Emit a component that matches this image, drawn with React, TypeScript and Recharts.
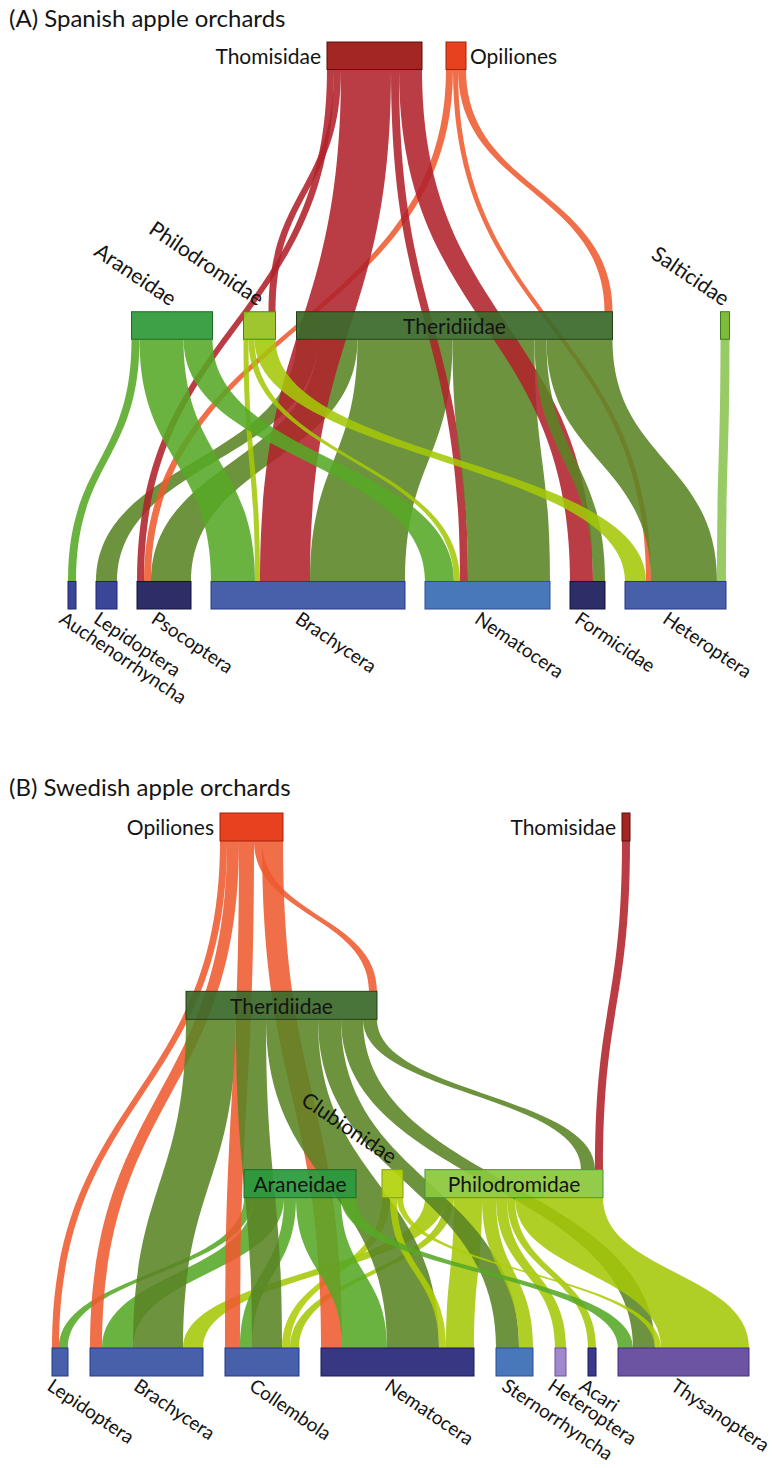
import { ComposedChart, Scatter, XAxis, YAxis } from "recharts";

const FONT = "Lato, 'Open Sans', sans-serif";

type Link = [string, string, number];

// (A) Spanish apple orchards
const spainLevels = [
	["Thomisidae", "Opiliones"],
	["Araneidae", "Philodromidae", "Theridiidae", "Salticidae"],
];
const spainStarts = [
	[327, 446],
	[131.5, 243.5, 296.5, 720.5],
];
const spainPrey = ["Auchenorrhyncha", "Lepidoptera", "Psocoptera", "Brachycera", "Nematocera", "Formicidae", "Heteroptera"];
const spainLinks: Link[] = [
	["Araneidae", "Auchenorrhyncha", 8],
	["Theridiidae", "Lepidoptera", 21],
	["Thomisidae", "Psocoptera", 7],
	["Opiliones", "Psocoptera", 7],
	["Theridiidae", "Psocoptera", 40],
	["Araneidae", "Brachycera", 44],
	["Philodromidae", "Brachycera", 5],
	["Thomisidae", "Philodromidae", 7],
	["Thomisidae", "Brachycera", 50],
	["Theridiidae", "Brachycera", 95],
	["Araneidae", "Nematocera", 29],
	["Philodromidae", "Nematocera", 6],
	["Thomisidae", "Nematocera", 8],
	["Theridiidae", "Nematocera", 82],
	["Thomisidae", "Formicidae", 23],
	["Theridiidae", "Formicidae", 12],
	["Philodromidae", "Heteroptera", 21],
	["Opiliones", "Heteroptera", 5],
	["Theridiidae", "Heteroptera", 66],
	["Salticidae", "Heteroptera", 9],
	["Opiliones", "Theridiidae", 8],
];

// (B) Swedish apple orchards
const swedenLevels = [
	["Opiliones", "Thomisidae"],
	["Theridiidae"],
	["Araneidae", "Clubionidae", "Philodromidae"],
];
const swedenStarts = [[220, 622], [186], [244, 382, 425]];
const swedenPrey = ["Lepidoptera", "Brachycera", "Collembola", "Nematocera", "Sternorrhyncha", "Heteroptera", "Acari", "Thysanoptera"];
const swedenLinks: Link[] = [
	["Opiliones", "Lepidoptera", 7],
	["Araneidae", "Lepidoptera", 9],
	["Opiliones", "Brachycera", 12],
	["Araneidae", "Brachycera", 31],
	["Theridiidae", "Brachycera", 50],
	["Philodromidae", "Brachycera", 20],
	["Opiliones", "Collembola", 15],
	["Araneidae", "Collembola", 12],
	["Theridiidae", "Collembola", 30],
	["Clubionidae", "Collembola", 8],
	["Philodromidae", "Collembola", 9],
	["Opiliones", "Theridiidae", 8],
	["Opiliones", "Nematocera", 21],
	["Araneidae", "Nematocera", 45],
	["Theridiidae", "Nematocera", 52],
	["Clubionidae", "Nematocera", 7],
	["Philodromidae", "Nematocera", 28],
	["Theridiidae", "Sternorrhyncha", 23],
	["Philodromidae", "Sternorrhyncha", 14],
	["Philodromidae", "Heteroptera", 11],
	["Philodromidae", "Acari", 8],
	["Araneidae", "Thysanoptera", 15],
	["Theridiidae", "Thysanoptera", 22],
	["Clubionidae", "Thysanoptera", 6],
	["Philodromidae", "Thysanoptera", 88],
	["Theridiidae", "Philodromidae", 14],
	["Thomisidae", "Philodromidae", 8],
];

// styles
const LINK_FILL: Record<string, string> = {
	Thomisidae: "#b0222b",
	Opiliones: "#ee5a2f",
	Araneidae: "#56a826",
	Philodromidae: "#a4c708",
	Clubionidae: "#aecd08",
	Theridiidae: "#5a8424",
	Salticidae: "#8ac350",
};

const SPAIN_NODE: Record<string, [string, string]> = {
	Thomisidae: ["#9c1611", "#5c0d0a"],
	Opiliones: ["#e5330e", "#a52309"],
	Araneidae: ["#2f9a3a", "#1d6b26"],
	Philodromidae: ["#98c21e", "#2f8a2a"],
	Theridiidae: ["#3c6a2b", "#233f18"],
	Salticidae: ["#76b72a", "#3c7a20"],
	Auchenorrhyncha: ["#2b3990", "#1c2870"],
	Lepidoptera: ["#2b3990", "#1c2870"],
	Psocoptera: ["#1d1d5c", "#121240"],
	Brachycera: ["#3a53a4", "#25398a"],
	Nematocera: ["#3a6db5", "#2a4f95"],
	Formicidae: ["#1d1d5c", "#121240"],
	Heteroptera: ["#3a53a4", "#25398a"],
};

const SWEDEN_NODE: Record<string, [string, string]> = {
	Opiliones: ["#e5330e", "#a52309"],
	Thomisidae: ["#9c1611", "#5c0d0a"],
	Theridiidae: ["#3c6a2b", "#233f18"],
	Araneidae: ["#2b9a3d", "#1d6b26"],
	Clubionidae: ["#b3d30d", "#7fa010"],
	Philodromidae: ["#8cc83c", "#3a9a3a"],
	Lepidoptera: ["#3a53a4", "#25398a"],
	Brachycera: ["#3a53a4", "#25398a"],
	Collembola: ["#3a53a4", "#25398a"],
	Nematocera: ["#29287a", "#1a1a5a"],
	Sternorrhyncha: ["#3a6db5", "#2a4f95"],
	Heteroptera: ["#9a7ec8", "#6a4fa0"],
	Acari: ["#2a2a80", "#1a1a5a"],
	Thysanoptera: ["#62479b", "#43307a"],
};

const SPAIN_LABEL: Record<string, string> = {
	Thomisidae: "left",
	Opiliones: "right",
	Araneidae: "diag",
	Philodromidae: "diag",
	Theridiidae: "inside",
	Salticidae: "diag",
};

const SWEDEN_LABEL: Record<string, string> = {
	Opiliones: "left",
	Thomisidae: "left",
	Theridiidae: "inside",
	Araneidae: "inside",
	Clubionidae: "diag",
	Philodromidae: "inside",
};

type Spec = {
	levels: string[][];
	starts: number[][];
	prey: string[];
	preyStart: number;
	preyGap: number;
	links: Link[];
};

function layout(spec: Spec, thick: number) {
	const row: Record<string, number> = {};
	const x0: Record<string, number> = {};
	const size: Record<string, number> = {};
	const out: Record<string, number> = {};
	const inn: Record<string, number> = {};
	spec.links.forEach(([s, t, v]) => {
		out[s] = (out[s] || 0) + v;
		inn[t] = (inn[t] || 0) + v;
	});
	spec.levels.forEach((names, r) =>
		names.forEach((n, i) => {
			row[n] = r;
			x0[n] = spec.starts[r][i];
			size[n] = Math.max(out[n] || 0, inn[n] || 0);
		}),
	);
	const preyRow = spec.levels.length;
	let cur = spec.preyStart;
	spec.prey.forEach(n => {
		row[n] = preyRow;
		x0[n] = cur;
		size[n] = inn[n] || 0;
		cur += size[n] + spec.preyGap;
	});
	const names = Object.keys(row);
	const outCur: Record<string, number> = {};
	const inCur: Record<string, number> = {};
	names.forEach(n => {
		outCur[n] = x0[n];
		inCur[n] = x0[n] + size[n] - (inn[n] || 0);
	});
	const ribbons = spec.links.map(([s, t, v]) => {
		const a = outCur[s];
		outCur[s] += v;
		const b = inCur[t];
		inCur[t] += v;
		return { source: s, a, b, v, ys: row[s] + thick, yt: row[t] };
	});
	const nodes = names.map(n => ({ name: n, row: row[n], x0: x0[n], x1: x0[n] + size[n] }));
	return { nodes, ribbons, maxLvl: preyRow + thick };
}

function renderLabel(name: string, place: string, x: number, y: number, width: number, height: number) {
	const common = { fontFamily: FONT, fontSize: 21, fill: "#141414" };
	if (place === "inside")
		return (
			<text x={x + width / 2} y={y + height / 2} textAnchor="middle" dominantBaseline="central" {...common}>
				{name}
			</text>
		);
	if (place === "left")
		return (
			<text x={x - 6} y={y + height / 2} textAnchor="end" dominantBaseline="central" {...common}>
				{name}
			</text>
		);
	if (place === "right")
		return (
			<text x={x + width + 4} y={y + height / 2} textAnchor="start" dominantBaseline="central" {...common}>
				{name}
			</text>
		);
	if (place === "diag") {
		const px = x + width / 2 - 2;
		const py = y - 5;
		return (
			<text x={px} y={py} textAnchor="end" transform={`rotate(34, ${px}, ${py})`} {...common}>
				{name}
			</text>
		);
	}
	const px = x + width / 2 - 14;
	const py = y + height + 13;
	return (
		<text x={px} y={py} textAnchor="start" transform={`rotate(34, ${px}, ${py})`} {...common} fontSize={19}>
			{name}
		</text>
	);
}

// ribbon from 4 scaled corner points: source left/right, target left/right
function ribbonLine(fill: string) {
	return (p: any) => {
		const pts = p.points || [];
		if (pts.length < 4) return <g />;
		const [s0, s1, t0, t1] = pts;
		const my = (s0.y + t0.y) / 2;
		const d = `M${s0.x},${s0.y} C${s0.x},${my} ${t0.x},${my} ${t0.x},${t0.y} L${t1.x},${t1.y} C${t1.x},${my} ${s1.x},${my} ${s1.x},${s1.y} Z`;
		return <path d={d} fill={fill} fillOpacity={0.88} stroke="none" />;
	};
}

// node box from 2 scaled corner points, with its label
function nodeLine(name: string, fill: string, stroke: string, place: string) {
	return (p: any) => {
		const pts = p.points || [];
		if (pts.length < 2) return <g />;
		const x = Math.min(pts[0].x, pts[1].x);
		const y = Math.min(pts[0].y, pts[1].y);
		const w = Math.abs(pts[1].x - pts[0].x);
		const h = Math.abs(pts[1].y - pts[0].y);
		return (
			<g>
				<rect x={x} y={y} width={w} height={h} fill={fill} fillOpacity={0.93} stroke={stroke} strokeWidth={1} />
				{renderLabel(name, place, x, y, w, h)}
			</g>
		);
	};
}

type PanelProps = {
	spec: Spec;
	thick: number;
	height: number;
	top: number;
	bottom: number;
	colors: Record<string, [string, string]>;
	places: Record<string, string>;
};

function FoodWeb({ spec, thick, height, top, bottom, colors, places }: PanelProps) {
	const { nodes, ribbons, maxLvl } = layout(spec, thick);
	return (
		<ComposedChart width={777} height={height} margin={{ top, right: 0, bottom, left: 0 }}>
			<XAxis type="number" dataKey="px" domain={[0, 777]} hide />
			<YAxis type="number" dataKey="lvl" domain={[0, maxLvl]} reversed hide />
			{ribbons.map((r, i) => (
				<Scatter
					key={`l${i}`}
					data={[
						{ px: r.a, lvl: r.ys },
						{ px: r.a + r.v, lvl: r.ys },
						{ px: r.b, lvl: r.yt },
						{ px: r.b + r.v, lvl: r.yt },
					]}
					line={ribbonLine(LINK_FILL[r.source])}
					shape={() => <g />}
					isAnimationActive={false}
				/>
			))}
			{nodes.map(n => (
				<Scatter
					key={n.name}
					data={[
						{ px: n.x0, lvl: n.row },
						{ px: n.x1, lvl: n.row + thick },
					]}
					line={nodeLine(n.name, colors[n.name][0], colors[n.name][1], places[n.name] || "below")}
					shape={() => <g />}
					isAnimationActive={false}
				/>
			))}
		</ComposedChart>
	);
}

const titleStyle = {
	position: "absolute" as const,
	left: 9,
	fontFamily: FONT,
	fontSize: 24,
	lineHeight: "24px",
	color: "#141414",
	whiteSpace: "nowrap" as const,
};

export default function App() {
	return (
		<div style={{ position: "absolute", left: 0, top: 0, width: 777, height: 1468, background: "#fff", overflow: "hidden" }}>
			<div style={{ position: "absolute", left: 0, top: 0 }}>
				<FoodWeb
					spec={{ levels: spainLevels, starts: spainStarts, prey: spainPrey, preyStart: 68, preyGap: 20, links: spainLinks }}
					thick={0.102}
					height={740}
					top={42}
					bottom={131}
					colors={SPAIN_NODE}
					places={SPAIN_LABEL}
				/>
			</div>
			<div style={{ position: "absolute", left: 0, top: 760 }}>
				<FoodWeb
					spec={{ levels: swedenLevels, starts: swedenStarts, prey: swedenPrey, preyStart: 52, preyGap: 22, links: swedenLinks }}
					thick={0.157}
					height={708}
					top={53}
					bottom={92}
					colors={SWEDEN_NODE}
					places={SWEDEN_LABEL}
				/>
			</div>
			<div style={{ ...titleStyle, top: 6 }}>(A) Spanish apple orchards</div>
			<div style={{ ...titleStyle, top: 775 }}>(B) Swedish apple orchards</div>
		</div>
	);
}
